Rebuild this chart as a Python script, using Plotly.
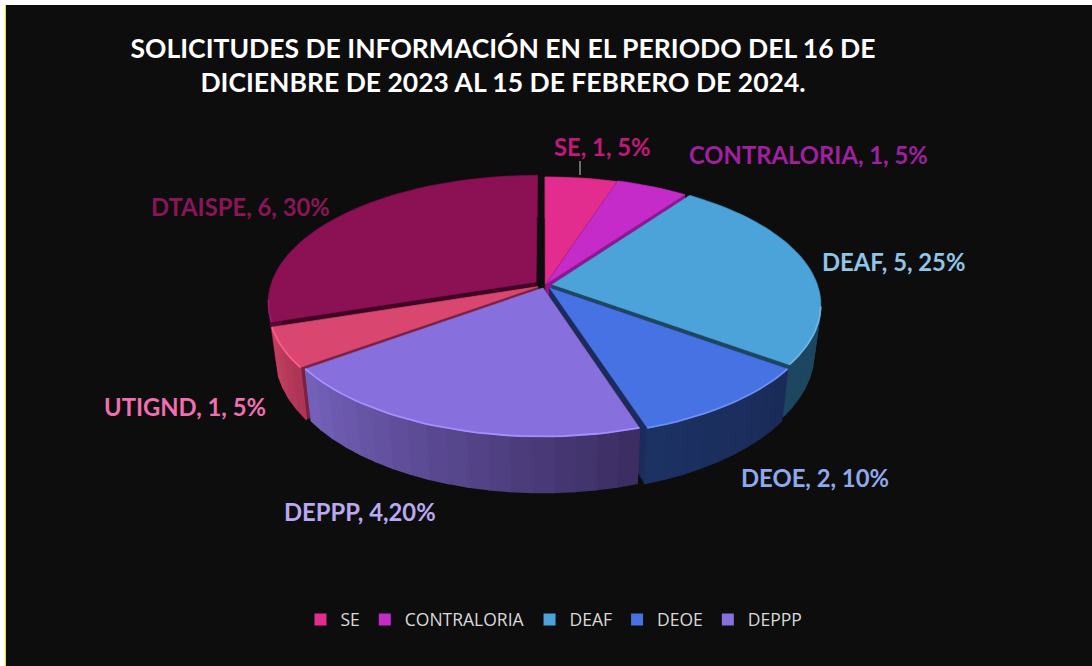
import math
import plotly.graph_objects as go

categories = ["SE", "CONTRALORIA", "DEAF", "DEOE", "DEPPP", "UTIGND", "DTAISPE"]
values = [1, 1, 5, 2, 4, 1, 6]
labels = ["SE, 1, 5%", "CONTRALORIA, 1, 5%", "DEAF, 5, 25%", "DEOE, 2, 10%",
          "DEPPP, 4,20%", "UTIGND, 1, 5%", "DTAISPE, 6, 30%"]
legend_names = ["SE", "CONTRALORIA", "DEAF", "DEOE", "DEPPP"]
title_lines = ["SOLICITUDES DE INFORMACIÓN EN EL PERIODO DEL 16 DE",
               "DICIENBRE DE 2023 AL 15 DE FEBRERO DE 2024."]

top_colors = ["#E32D8E", "#C42BC8", "#4BA3DA", "#4672E3", "#8770DE", "#D9466F", "#8C1154"]
side_colors = ["#8E1A5C", "#8E1690", "#1D4660", "#1B2C5C", "#7A2040", "#7A2040", "#3F0425"]
wall_left = ["#8E1A5C", "#8E1690", "#1D4660", "#1C3264", "#7562BC", "#C4405F", "#5A0A38"]
wall_right = ["#8E1A5C", "#8E1690", "#1D4660", "#1A2B58", "#3A2C60", "#AA3456", "#5A0A38"]
rim_colors = ["#E32D8E", "#C42BC8", "#6FB4E0", "#6C90F0", "#A68EFF", "#FF5C88", "#A3156A"]
label_colors = ["#C2187A", "#A020A0", "#8FC6E8", "#8FA9EE", "#B9A9F2", "#F06FB0", "#8A1558"]
explode = [0.008, 0.015, 0.028, 0.03, 0.025, 0.03, 0.042]
label_xy = [(602, 147), (808, 155), (893, 262), (815, 478), (360, 512), (185, 407), (240, 207)]

# Perspective model of the pie (disk coordinates to the picture's axes)
X0, Y0, A, B, K, DEPTH, SHRINK = 545, 285, 124, 265, 0.158, 47, 0.025
RIM_FROM, RIM_TO = math.radians(100), math.radians(262)


def project(u, v, z=0.0):
    d = 1 + K * v
    return X0 + B * u / d * (1 - SHRINK * z), Y0 - A * v / d + DEPTH * z / d


def blend(c1, c2, t):
    a = [int(c1[i:i + 2], 16) for i in (1, 3, 5)]
    b = [int(c2[i:i + 2], 16) for i in (1, 3, 5)]
    return "#%02x%02x%02x" % tuple(round(p + (q - p) * t) for p, q in zip(a, b))


fig = go.Figure()


def poly(points, color, width=0.6):
    xs = [p[0] for p in points] + [points[0][0]]
    ys = [p[1] for p in points] + [points[0][1]]
    fig.add_trace(go.Scatter(x=xs, y=ys, mode="lines", fill="toself", fillcolor=color,
                             line=dict(color=color, width=width), hoverinfo="skip", showlegend=False))


total = sum(values)
angles = []
running = 0
for v in values:
    angles.append((running / total * 2 * math.pi, (running + v) / total * 2 * math.pi))
    running += v

draw_order = ["DTAISPE", "SE", "CONTRALORIA", "DEAF", "UTIGND", "DEOE", "DEPPP"]
for name in draw_order:
    i = categories.index(name)
    a0, a1 = angles[i]
    mid = (a0 + a1) / 2
    ex, ey = explode[i] * math.sin(mid), explode[i] * math.cos(mid)

    def rim(t, z=0.0):
        return project(ex + math.sin(t), ey + math.cos(t), z)

    apex_t, apex_b = project(ex, ey), project(ex, ey, 1)
    # radial side faces
    poly([apex_t, rim(a0), rim(a0, 1), apex_b], side_colors[i])
    poly([apex_t, rim(a1), rim(a1, 1), apex_b], side_colors[i])
    # outer wall, in strips so its shading runs across the slice
    n = max(3, int((a1 - a0) / math.radians(4)))
    for j in range(n):
        t0 = a0 + (a1 - a0) * j / n
        t1 = a0 + (a1 - a0) * (j + 1) / n
        # left of the picture = late angle in the front half
        color = blend(wall_right[i], wall_left[i], (j + 0.5) / n)
        poly([rim(t0), rim(t1), rim(t1, 1), rim(t0, 1)], color, width=1.6)
    # top face
    steps = max(8, int((a1 - a0) / math.radians(2)))
    ts = [a0 + (a1 - a0) * j / steps for j in range(steps + 1)]
    poly([apex_t] + [rim(t) for t in ts], top_colors[i])
    # glossy rim, only on the front edge that faces the light
    front = [rim(t) for t in ts if RIM_FROM <= t <= RIM_TO]
    if len(front) > 1:
        fig.add_trace(go.Scatter(x=[p[0] for p in front], y=[p[1] for p in front], mode="lines",
                                 line=dict(color=rim_colors[i], width=1.8),
                                 hoverinfo="skip", showlegend=False))

# leader line of the SE label
fig.add_shape(type="line", x0=580, x1=580, y0=161, y1=175, line=dict(color="#D0D0D0", width=1))

# legend entries
for name in legend_names:
    i = categories.index(name)
    fig.add_trace(go.Scatter(x=[None], y=[None], mode="markers", name=name,
                             marker=dict(symbol="square", size=12, color=top_colors[i])))

for text, (x, y), color in zip(labels, label_xy, label_colors):
    fig.add_annotation(x=x, y=y, text=text, showarrow=False, xanchor="center", yanchor="middle",
                       font=dict(family="Lato", size=23.8, color=color, weight="bold"))

fig.update_layout(
    width=1092, height=666,
    margin=dict(l=6, r=0, t=5, b=0),
    paper_bgcolor="#FFFFFF", plot_bgcolor="#0D0D0D",
    title=dict(text="<br>".join(title_lines), x=503 / 1092, xanchor="center", y=0.913, yanchor="middle",
               font=dict(family="Lato", size=26.5, color="#FFFFFF", weight="bold")),
    xaxis=dict(range=[6, 1092], visible=False, fixedrange=True),
    yaxis=dict(range=[666, 5], visible=True, showgrid=False, zeroline=False, showticklabels=False,
               ticks="", showline=True, linecolor="#E8E800", linewidth=1, fixedrange=True),
    legend=dict(orientation="h", x=551 / 1092, xanchor="center", y=0.07, yanchor="middle",
                bgcolor="rgba(0,0,0,0)", font=dict(family="Open Sans", size=17.5, color="#D9D9D9")),
    showlegend=True,
)

fig.write_html("out.html", config=dict(displayModeBar=False),
               post_script="document.body.style.margin='0';document.body.style.overflow='hidden';")
